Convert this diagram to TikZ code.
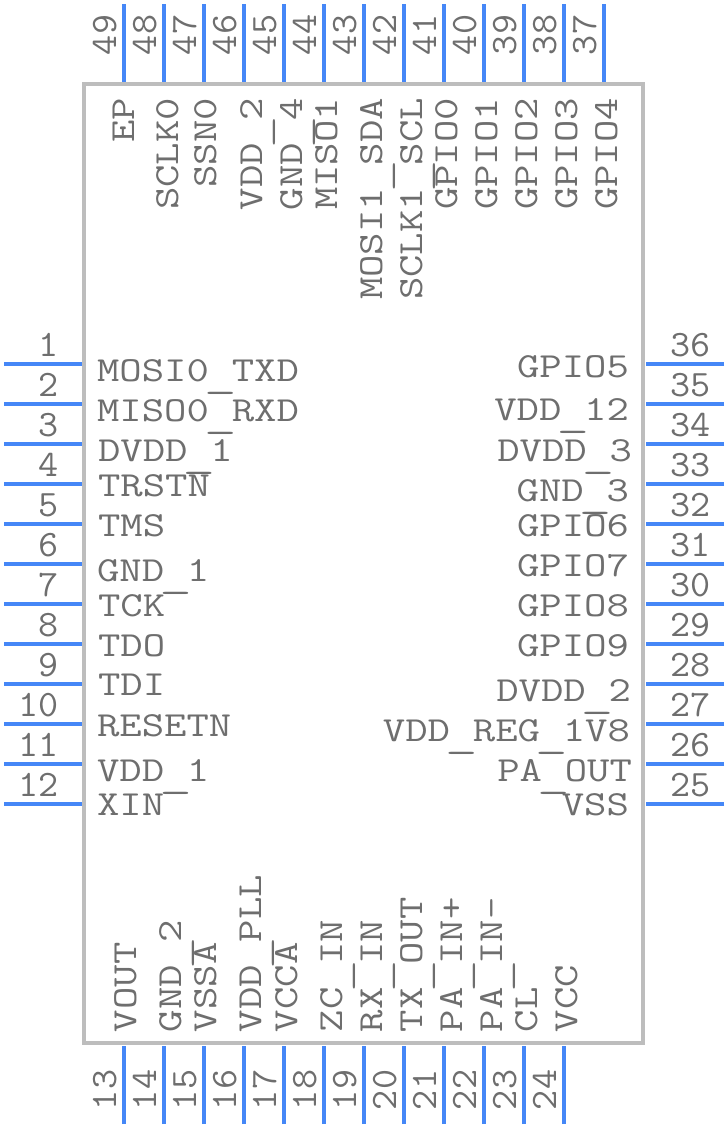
\documentclass[tikz,border=0pt]{standalone}
\usepackage{graphicx}
\definecolor{pinblue}{HTML}{4587F7}
\definecolor{bodygrey}{HTML}{BDBDBD}
\definecolor{txtgrey}{HTML}{6E6E6E}
\newcommand{\lbl}[1]{\scalebox{1.26}[1.02]{\fontsize{34.5}{34.5}\selectfont\ttfamily #1}}
\newcommand{\num}[1]{\scalebox{1.13}[1.08]{\fontsize{34.5}{34.5}\selectfont\ttfamily #1}}
\newcommand{\us}{\smash{\makebox[18.11pt]{\raisebox{-6.5pt}{\scalebox{1.45}[1]{\_}}}}}
\tikzset{
  txt/.style={inner sep=0pt,outer sep=0pt,text=txtgrey},
  pinline/.style={draw=pinblue,line width=4pt},
  bodybox/.style={draw=bodygrey,line width=3.5pt,fill=white}
}
\begin{document}
\begin{tikzpicture}[x=1pt,y=-1pt]
\useasboundingbox (0,0) rectangle (728,1128);
\fill[white] (0,0) rectangle (728,1128);
\draw[bodybox] (84,84) rectangle (643,1043);
% left
\foreach \n/\yy/\xx/\bb/\t in {1/364/97/381/MOSI0\us TXD,2/404/97/421/MISO0\us RXD,3/444/98/461/DVDD\us 1,4/484/98/496/TRSTN,5/524/98/536/TMS,6/564/97/581/GND\us 1,7/604/98/616/TCK,8/644/98/656/TDO,9/684/98/695/TDI,10/724/97/736/RESETN,11/764/97/781/VDD\us 1,12/804/97/815/XIN}{
  \coordinate (lo\n) at (4,\yy); \coordinate (li\n) at (82,\yy);
  \draw[pinline] (lo\n) -- (li\n);
  \node[txt,anchor=base east] (ln\n) at (59,\yy-8) {\num{\n}};
  \node[txt,anchor=base west] (ll\n) at (\xx,\bb) {\lbl{\t}};
}
% right
\foreach \n/\yy/\xx/\bb/\t in {36/364/629/377/GPIO5,35/404/629/420/VDD\us 12,34/444/632/461/DVDD\us 3,33/484/629/501/GND\us 3,32/524/629/536/GPIO6,31/564/629/576/GPIO7,30/604/629/616/GPIO8,29/644/629/656/GPIO9,28/684/631/701/DVDD\us 2,27/724/630/741/VDD\us REG\us 1V8,26/764/632/781/PA\us OUT,25/804/629/815/VSS}{
  \coordinate (ro\n) at (724,\yy); \coordinate (ri\n) at (646,\yy);
  \draw[pinline] (ro\n) -- (ri\n);
  \node[txt,anchor=base west] (rn\n) at (670,\yy-8) {\num{\n}};
  \node[txt,anchor=base east] (rl\n) at (\xx,\bb) {\lbl{\t}};
}
% top
\foreach \n/\xx/\cc/\t in {49/124/134/EP,48/164/178/SCLK0,47/204/216/SSN0,46/244/262/VDD\us 2,45/284/302/GND\us 4,44/324/337/MISO1,43/364/382/MOSI1\us SDA,42/404/422/SCLK1\us SCL,41/444/457/GPIO0,40/484/497/GPIO1,39/524/537/GPIO2,38/564/577/GPIO3,37/604/617/GPIO4}{
  \coordinate (to\n) at (\xx,4); \coordinate (ti\n) at (\xx,82);
  \draw[pinline] (to\n) -- (ti\n);
  \node[txt,rotate=90,anchor=base west] (tn\n) at (\xx-8,55) {\num{\n}};
  \node[txt,rotate=90,anchor=base east] (tl\n) at (\cc,98) {\lbl{\t}};
}
% bottom
\foreach \n/\xx/\cc/\t in {13/124/136/VOUT,14/164/181/GND\us 2,15/204/216/VSSA,16/244/261/VDD\us PLL,17/284/297/VCCA,18/324/342/ZC\us IN,19/364/382/RX\us IN,20/404/422/TX\us OUT,21/444/462/PA\us IN+,22/484/502/PA\us IN-,23/524/537/CL,24/564/577/VCC}{
  \coordinate (bo\n) at (\xx,1124); \coordinate (bi\n) at (\xx,1046);
  \draw[pinline] (bo\n) -- (bi\n);
  \node[txt,rotate=90,anchor=base west] (bn\n) at (\xx-8,1110) {\num{\n}};
  \node[txt,rotate=90,anchor=base west] (bl\n) at (\cc,1032) {\lbl{\t}};
}
\end{tikzpicture}
\end{document}
